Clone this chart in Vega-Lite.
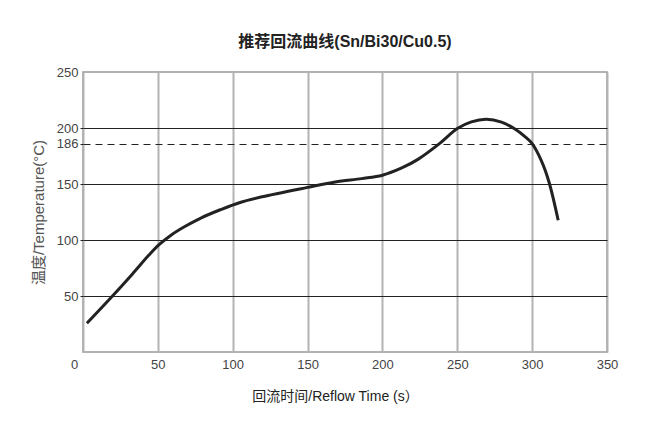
{
  "$schema": "https://vega.github.io/schema/vega-lite/v6.json",
  "width": 524,
  "height": 280,
  "autosize": "none",
  "padding": {"left": 83, "top": 72, "right": 63, "bottom": 76},
  "background": "white",
  "title": {
    "text": "推荐回流曲线(Sn/Bi30/Cu0.5)",
    "font": "'Liberation Sans', 'Noto Sans CJK SC', sans-serif",
    "fontSize": 16,
    "fontWeight": "bold",
    "color": "#222",
    "anchor": "middle",
    "offset": 16
  },
  "config": {
    "view": {"stroke": "#999", "strokeWidth": 1.5}
  },
  "data": {
    "values": [
      {"time": 2.6, "temp": 25.7},
      {"time": 19.7, "temp": 50},
      {"time": 32.9, "temp": 69.5},
      {"time": 43.9, "temp": 86.3},
      {"time": 51, "temp": 96},
      {"time": 59, "temp": 104.5},
      {"time": 68, "temp": 112},
      {"time": 78.7, "temp": 119.6},
      {"time": 91.7, "temp": 127},
      {"time": 104.4, "temp": 133.3},
      {"time": 119.6, "temp": 138.6},
      {"time": 150, "temp": 147},
      {"time": 168.5, "temp": 151.8},
      {"time": 186.2, "temp": 154.8},
      {"time": 200, "temp": 157.8},
      {"time": 212.9, "temp": 164.3},
      {"time": 223.7, "temp": 172},
      {"time": 238.5, "temp": 186.5},
      {"time": 250, "temp": 199.5},
      {"time": 259.4, "temp": 205.5},
      {"time": 269.5, "temp": 207.8},
      {"time": 279.5, "temp": 205.2},
      {"time": 288, "temp": 199.5},
      {"time": 295, "temp": 192.5},
      {"time": 300, "temp": 186},
      {"time": 306.2, "temp": 170.6},
      {"time": 311.2, "temp": 152},
      {"time": 317.4, "temp": 117.6}
    ]
  },
  "mark": {"type": "line", "interpolate": "catmull-rom", "color": "#222", "strokeWidth": 3},
  "encoding": {
    "x": {
      "field": "time",
      "type": "quantitative",
      "scale": {"domain": [0, 350], "nice": false},
      "axis": {
        "values": [0, 50, 100, 150, 200, 250, 300, 350],
        "title": "回流时间/Reflow Time (s）",
        "titleFont": "'Liberation Sans', 'Noto Sans CJK SC', sans-serif",
        "titleFontSize": 14,
        "titleFontWeight": "normal",
        "titleColor": "#222",
        "titlePadding": 18,
        "titleX": 252,
        "labelFont": "'Liberation Sans', sans-serif",
        "labelFontSize": 13,
        "labelColor": "#444",
        "labelPadding": 6,
        "labelOffset": {"condition": {"test": "datum.value === 0", "value": -9}, "value": 0},
        "labelFlush": false,
        "tickSize": 0,
        "domain": false,
        "grid": true,
        "gridColor": "#b3b3b3",
        "gridWidth": 2
      }
    },
    "y": {
      "field": "temp",
      "type": "quantitative",
      "scale": {"domain": [0, 250], "nice": false},
      "axis": {
        "values": [50, 100, 150, 186, 200, 250],
        "title": "温度/Temperature(°C)",
        "titleFont": "'Liberation Sans', 'Noto Sans CJK SC', sans-serif",
        "titleFontSize": 15,
        "titleFontWeight": "normal",
        "titleColor": "#555",
        "titlePadding": 10,
        "labelFont": "'Liberation Sans', sans-serif",
        "labelFontSize": 13,
        "labelColor": "#444",
        "labelPadding": 2,
        "tickSize": 3,
        "tickColor": "#222",
        "tickOpacity": {"condition": {"test": "datum.value === 250", "value": 0}, "value": 1},
        "domain": false,
        "grid": true,
        "gridColor": "#222",
        "gridWidth": 1.2,
        "gridOpacity": {"condition": {"test": "datum.value === 250", "value": 0}, "value": 1},
        "gridDash": {"condition": {"test": "datum.value === 186", "value": [7, 5]}, "value": []}
      }
    }
  }
}
